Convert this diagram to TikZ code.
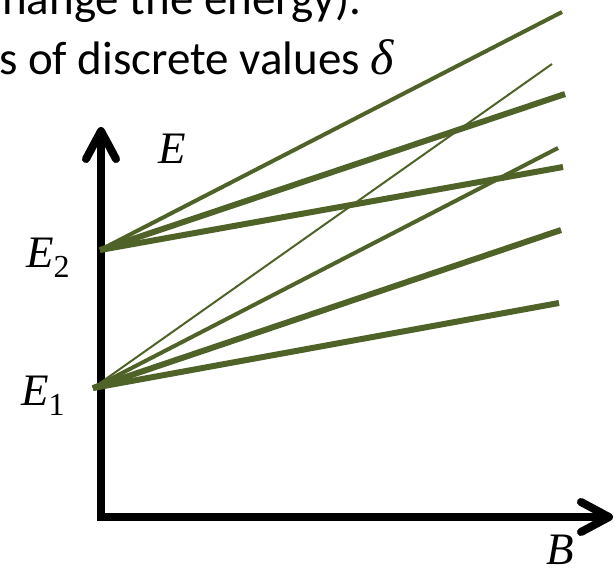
\documentclass[tikz,border=0pt]{standalone}
\usepackage{fontspec}
\newfontfamily\calibri{Carlito}
\newfontfamily\serifit{Liberation Serif}
\definecolor{zgreen}{HTML}{4F6228}
\newcommand{\sublbl}[2]{\itshape #1\raisebox{-10pt}{\upshape\fontsize{32}{32}\selectfont #2}}
\tikzset{
  axisline/.style={line width=8pt, black},
  tipline/.style={line width=8pt, black, line cap=round, line join=round},
  lvthin/.style={zgreen, line width=2pt},
  lvmed/.style={zgreen, line width=4pt},
  lvthick/.style={zgreen, line width=6pt},
  lbl/.style={inner sep=0pt, anchor=base west, font=\serifit\fontsize{45}{50}\selectfont\itshape},
  txt/.style={inner sep=0pt, anchor=base west, font=\calibri\fontsize{47}{56}\selectfont}
}
\begin{document}
\begin{tikzpicture}[x=1pt,y=-1pt]
\useasboundingbox (0,0) rectangle (615,570);
\fill[white] (0,0) rectangle (615,570);
\begin{scope}
\clip (0,0) rectangle (615,570);
\node[txt] (line1) at (2,14) {hange the energy).};
\node[txt] (line2) at (-1,74) {s of discrete values {\serifit\itshape\fontsize{50}{56}\selectfont δ}};
\end{scope}
% axes
\coordinate (Etop) at (101,131);
\coordinate (Bend) at (609,517);
\coordinate (Ea) at (86,159);
\coordinate (Eb) at (116,159);
\coordinate (Ba) at (581,502);
\coordinate (Bb) at (581,532);
\draw[axisline, line join=miter] (Etop) |- (Bend);
\draw[tipline] (Ea) -- (Etop) -- (Eb);
\draw[tipline] (Ba) -- (Bend) -- (Bb);
% level origins
\coordinate (E2o) at (100,250);
\coordinate (E1o) at (93,388);
% end points
\coordinate (p1) at (562,12);
\coordinate (p2) at (565,94);
\coordinate (p3) at (563,167);
\coordinate (q1) at (552,64);
\coordinate (q2) at (558,148);
\coordinate (q3) at (561,230);
\coordinate (q4) at (559,303);
\draw[lvmed] (E2o) -- (p1);
\draw[lvthick] (E2o) -- (p2);
\draw[lvthick] (E2o) -- (p3);
\draw[lvthin] (E1o) -- (q1);
\draw[lvmed] (E1o) -- (q2);
\draw[lvthick] (E1o) -- (q3);
\draw[lvthick] (E1o) -- (q4);
% labels
\node[lbl] (E) at (158,163) {E};
\node[lbl] (E2) at (26,267) {\sublbl{E}{2}};
\node[lbl] (E1) at (21,405) {\sublbl{E}{1}};
\node[lbl] (B) at (546,564) {B};
\end{tikzpicture}
\end{document}
